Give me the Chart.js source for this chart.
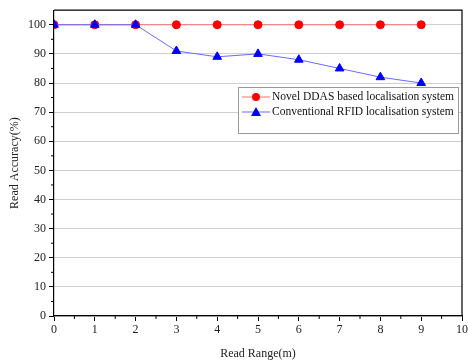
<!DOCTYPE html>
<html>
<head>
<meta charset="utf-8">
<script src="https://cdn.jsdelivr.net/npm/chart.js@4"></script>
<style>
  html, body { margin: 0; padding: 0; background: #fff; }
  #wrap { width: 468px; height: 361px; }
</style>
</head>
<body>
<div id="wrap"><canvas id="chart-range"></canvas></div>
<script>
// read range in metres
var ranges = [0, 1, 2, 3, 4, 5, 6, 7, 8, 9];
var ddasAccuracy = [100, 100, 100, 100, 100, 100, 100, 100, 100, 100];
var rfidAccuracy = [100, 100, 100, 91, 89, 90, 88, 85, 82, 80];
var seriesNames = ['Novel DDAS based localisation system', 'Conventional RFID localisation system'];
var yTicks = [0, 10, 20, 30, 40, 50, 60, 70, 80, 90, 100];
var xTicks = [0, 1, 2, 3, 4, 5, 6, 7, 8, 9, 10];

var serif = 'Liberation Serif';

function pairs(xs, ys) {
  return xs.map(function(x, i) { return { x: x, y: ys[i] }; });
}

// frame, minor ticks and the boxed legend
var extras = {
  id: 'extras',
  afterDraw: function(chart) {
    var ctx = chart.ctx, a = chart.chartArea;
    var xs = chart.scales.x, ys = chart.scales.y;
    ctx.save();
    ctx.strokeStyle = '#000';
    ctx.lineWidth = 1.2;
    ctx.beginPath();
    ctx.moveTo(a.left, a.top); ctx.lineTo(a.right, a.top); ctx.lineTo(a.right, a.bottom);
    ctx.stroke();

    ctx.lineWidth = 1;
    ctx.beginPath();
    for (var v = 0.5; v < 10; v += 1) {
      var px = xs.getPixelForValue(v);
      ctx.moveTo(px, a.bottom); ctx.lineTo(px, a.bottom + 3);
    }
    for (var w = 5; w < 105; w += 10) {
      var py = ys.getPixelForValue(w);
      ctx.moveTo(a.left, py); ctx.lineTo(a.left - 3, py);
    }
    ctx.stroke();

    // legend
    var bx = 238, by = 87, bw = 220, bh = 46;
    ctx.fillStyle = '#fff';
    ctx.fillRect(bx, by, bw, bh);
    ctx.strokeStyle = '#999';
    ctx.strokeRect(bx + 0.5, by + 0.5, bw, bh);
    ctx.font = '11.5px "' + serif + '"';
    ctx.textBaseline = 'middle';
    chart.data.datasets.forEach(function(ds, i) {
      var ly = by + 10 + i * 15;
      ctx.strokeStyle = ds.borderColor;
      ctx.lineWidth = 1;
      ctx.beginPath(); ctx.moveTo(bx + 4, ly); ctx.lineTo(bx + 32, ly); ctx.stroke();
      ctx.fillStyle = ds.pointBackgroundColor;
      ctx.beginPath();
      if (ds.pointStyle === 'triangle') {
        ctx.moveTo(bx + 18, ly - 5); ctx.lineTo(bx + 23, ly + 4); ctx.lineTo(bx + 13, ly + 4);
      } else {
        ctx.arc(bx + 18, ly, 4, 0, Math.PI * 2);
      }
      ctx.fill();
      ctx.fillStyle = '#111';
      ctx.fillText(seriesNames[i], bx + 34, ly);
    });
    ctx.restore();
  }
};

new Chart('chart-range', {
  type: 'line',
  data: {
    datasets: [
      {
        label: seriesNames[0],
        data: pairs(ranges, ddasAccuracy),
        borderColor: '#ff7070',
        borderWidth: 1,
        pointStyle: 'circle',
        pointRadius: 4,
        pointBackgroundColor: '#ff0000',
        pointBorderColor: '#ff0000',
        order: 1
      },
      {
        label: seriesNames[1],
        data: pairs(ranges, rfidAccuracy),
        borderColor: '#6a6aff',
        borderWidth: 1,
        pointStyle: 'triangle',
        pointRadius: 5,
        pointBackgroundColor: '#0000ff',
        pointBorderColor: '#0000ff',
        order: 0
      }
    ]
  },
  options: {
    responsive: true,
    maintainAspectRatio: false,
    animation: false,
    layout: { padding: { top: 8, right: 3, left: 0, bottom: 0 } },
    plugins: {
      legend: { display: false },
      tooltip: { enabled: false }
    },
    scales: {
      x: {
        type: 'linear',
        min: 0,
        max: 10,
        afterBuildTicks: function(s) { s.ticks = xTicks.map(function(v) { return { value: v }; }); },
        afterFit: function(s) { s.height = 45; s.paddingLeft = 0; s.paddingRight = 0; },
        grid: { drawOnChartArea: false, drawTicks: true, tickLength: 5, tickColor: '#000' },
        border: { color: '#000', width: 1.2 },
        ticks: { color: '#222', font: { family: serif, size: 12 }, padding: 2, maxRotation: 0 },
        title: { display: true, text: 'Read Range(m)', color: '#222', font: { family: serif, size: 12 }, padding: { top: 4, bottom: 0 } }
      },
      y: {
        min: 0,
        max: 105,
        afterBuildTicks: function(s) { s.ticks = yTicks.map(function(v) { return { value: v }; }); },
        afterFit: function(s) { s.width = 54; },
        grid: { color: '#d0d0d0', lineWidth: 1, drawTicks: true, tickLength: 5, tickColor: '#000' },
        border: { color: '#000', width: 1.2 },
        ticks: { color: '#222', font: { family: serif, size: 12 }, padding: 3 },
        title: { display: true, text: 'Read Accuracy(%)', color: '#222', font: { family: serif, size: 12 }, padding: { top: 8, bottom: 2 } }
      }
    }
  },
  plugins: [extras]
});
</script>
</body>
</html>
